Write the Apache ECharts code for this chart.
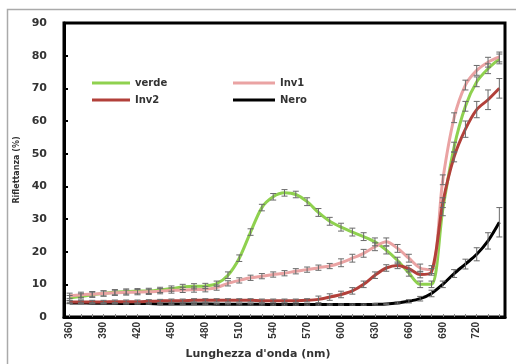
<!DOCTYPE html>
<html><head><meta charset="utf-8">
<script src="https://cdn.jsdelivr.net/npm/echarts@6/dist/echarts.min.js"></script>
<style>html,body{margin:0;padding:0;background:#fff}#c{width:516px;height:364px}</style>
</head><body><div id="c"></div><script>
var categories = ['360','370','380','390','400','410','420','430','440','450','460','470','480','490','500','510','520','530','540','550','560','570','580','590','600','610','620','630','640','650','660','670','680','690','700','710','720','730','740'];
var yTicks = [0,10,20,30,40,50,60,70,80,90];
var xTitle = 'Lunghezza d\'onda (nm)';
var yTitle = 'Riflettanza (%)';
var verde = [5.8,6.3,6.8,7.2,7.6,7.8,7.9,8.0,8.3,8.7,9.2,9.4,9.5,10.2,12.8,18,26,33.5,36.8,38,37.5,35.3,32,29.3,27.5,26,24.6,23,20.5,17.3,13.5,10,10,33,52,64.5,72,76,79];
var inv1 = [6.5,6.8,7.0,7.2,7.4,7.5,7.6,7.7,7.9,8.1,8.3,8.4,8.5,9.0,10.3,11.2,12,12.5,13,13.4,14,14.5,15.1,15.6,16.6,18,19.5,21.5,23,21,18,15,14.5,42,61,71,75.5,78,79.6];
var inv2 = [4.6,4.6,4.6,4.6,4.7,4.7,4.7,4.8,4.9,5.0,5.0,5.1,5.1,5.1,5.1,5.1,5.1,5.0,5.0,5.0,5.0,5.1,5.4,6.1,6.9,8,10,12.8,15,15.8,14.8,13,13.8,35,49,57.5,63.5,66.5,70];
var nero = [4.3,4.3,4.2,4.2,4.2,4.1,4.1,4.1,4.0,4.0,4.0,4.0,4.0,3.9,3.9,3.9,3.9,3.9,3.8,3.8,3.8,3.8,3.8,3.8,3.8,3.8,3.8,3.9,4.0,4.3,4.8,5.6,7.2,10,13.3,16.2,19.2,23.3,29];
var errVerde = [0.8,0.8,0.8,0.8,0.8,0.8,0.8,0.8,0.8,0.8,0.8,0.8,0.8,0.8,1,1,1,1,1,1,1,1.2,1.2,1.2,1.2,1.2,1.2,1.2,1.2,1,1,1,1,2,1.5,1.5,1.5,1.5,1.5];
var errInv1 = [0.8,0.8,0.8,0.8,0.8,0.8,0.8,0.8,0.8,0.8,0.8,0.8,0.8,0.8,0.8,0.8,0.8,0.8,0.8,0.8,0.8,0.8,0.8,0.8,1.2,1.2,1.2,1.2,1.2,1.2,1.2,1.2,1.2,1.5,1.5,1.5,1.5,1.5,1.5];
var errInv2 = [0.5,0.5,0.5,0.5,0.5,0.5,0.5,0.5,0.5,0.5,0.5,0.5,0.5,0.5,0.5,0.5,0.5,0.5,0.5,0.5,0.5,0.5,1,1,1,1,1,1,1,1,1,1,1,1.5,1.5,2.5,2.5,3,3];
var errNero = [0.2,0.2,0.2,0.2,0.2,0.2,0.2,0.2,0.2,0.2,0.2,0.2,0.2,0.2,0.2,0.2,0.2,0.2,0.2,0.2,0.2,0.2,0.2,0.2,0.2,0.2,0.2,0.2,0.2,0.3,0.5,0.7,1,1,1.2,1.5,2,2.5,4.5];

var C_VERDE = '#8fd14f', C_INV1 = '#eaa3a3', C_INV2 = '#b2403a', C_NERO = '#000000';

function lineSeries(name, data, color, z){
  return {type:'line', name:name, data:data, smooth:0.3, symbol:'none', z:z,
    lineStyle:{color:color, width:3}, itemStyle:{color:color}};
}
function errSeries(vals, errs){
  return {type:'custom', silent:true, z:6,
    data: vals.map(function(v,i){return [i, v, errs[i]];}),
    encode:{x:0, y:1},
    renderItem:function(params, api){
      var i = api.value(0), v = api.value(1), e = api.value(2);
      var hi = api.coord([i, v + e]), lo = api.coord([i, v - e]);
      var w = 3;
      var st = {stroke:'#6a6a6a', lineWidth:1};
      return {type:'group', children:[
        {type:'line', shape:{x1:hi[0], y1:hi[1], x2:lo[0], y2:lo[1]}, style:st},
        {type:'line', shape:{x1:hi[0]-w, y1:hi[1], x2:hi[0]+w, y2:hi[1]}, style:st},
        {type:'line', shape:{x1:lo[0]-w, y1:lo[1], x2:lo[0]+w, y2:lo[1]}, style:st}
      ]};
    }
  };
}

var chart = echarts.init(document.getElementById('c'), null, {renderer:'canvas'});
var legendText = {fontFamily:'DejaVu Sans', fontWeight:'bold', fontSize:10, color:'#333'};
chart.setOption({
  animation:false,
  backgroundColor:'#fff',
  graphic:[
    {type:'rect', shape:{x:7.5, y:9.5, width:520, height:370}, style:{fill:'none', stroke:'#aaaaaa', lineWidth:1.5}, silent:true},
    {type:'text', left:'center', bottom:4, style:{text:xTitle, fontFamily:'DejaVu Sans', fontWeight:'bold', fontSize:11, fill:'#333'}, silent:true}
  ],
  grid:{left:64, right:11, top:23, bottom:47, show:true, borderColor:'#000', borderWidth:3, backgroundColor:'transparent'},
  legend:[
    {data:['verde','Inv2'], orient:'vertical', left:87, top:73, itemGap:7, itemWidth:38, itemHeight:3, icon:'rect', textStyle:legendText, selectedMode:false},
    {data:['Inv1','Nero'], orient:'vertical', left:228, top:73, itemGap:7, itemWidth:42, itemHeight:3, icon:'rect', textStyle:legendText, selectedMode:false}
  ],
  xAxis:{type:'category', data:categories,
    axisLine:{show:true, lineStyle:{color:'#000', width:3}},
    axisTick:{show:true, inside:true, alignWithLabel:true, interval:0, length:3, lineStyle:{color:'#888', width:1}},
    axisLabel:{show:true, interval:2, rotate:90, margin:5, fontSize:10, fontWeight:'bold', color:'#333'},
    splitLine:{show:false}},
  yAxis:{type:'value', min:yTicks[0], max:yTicks[yTicks.length-1], interval:10,
    name:yTitle, nameLocation:'middle', nameRotate:90, nameGap:41,
    nameTextStyle:{fontFamily:'DejaVu Sans', fontWeight:'bold', fontSize:8, color:'#333'},
    axisLine:{show:true, lineStyle:{color:'#000', width:3}},
    axisTick:{show:true, inside:true, length:4, lineStyle:{color:'#000', width:2}},
    axisLabel:{margin:17, fontFamily:'DejaVu Sans', fontWeight:'bold', fontSize:11, color:'#333'},
    splitLine:{show:false}},
  series:[
    lineSeries('Nero', nero, C_NERO, 2),
    lineSeries('verde', verde, C_VERDE, 3),
    lineSeries('Inv1', inv1, C_INV1, 4),
    lineSeries('Inv2', inv2, C_INV2, 5),
    errSeries(verde, errVerde),
    errSeries(inv1, errInv1),
    errSeries(inv2, errInv2),
    errSeries(nero, errNero)
  ]
});
</script></body></html>
